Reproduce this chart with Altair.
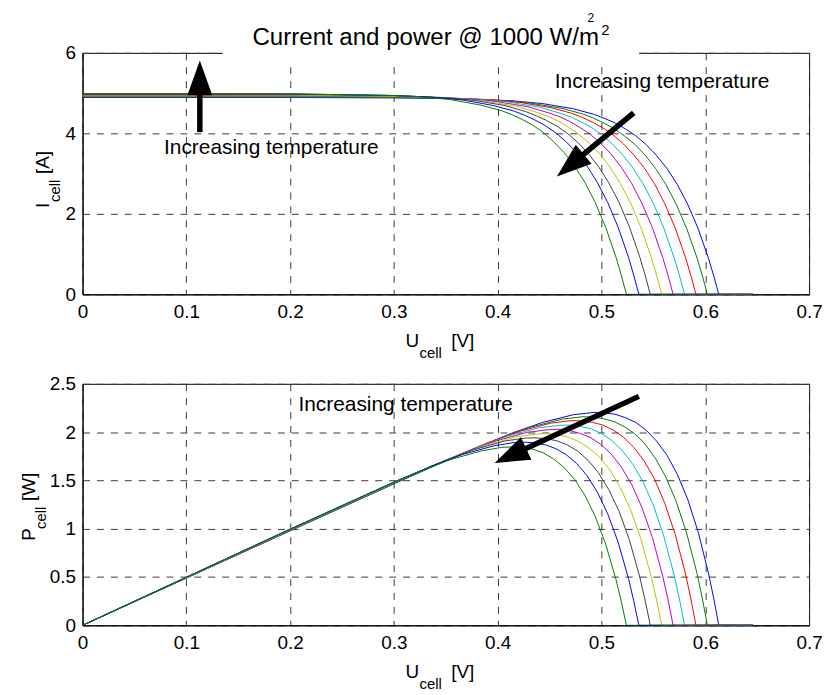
import math
import altair as alt
import pandas as pd

# ---------------- data ----------------
curve_ids = ["c1", "c2", "c3", "c4", "c5", "c6", "c7", "c8", "c9"]
curve_colors = ["#0000ff", "#008000", "#ff0000", "#00bfbf", "#bf00bf",
                "#bfbf00", "#404040", "#0000ff", "#008000"]

u_c1 = [0, 0.1, 0.2, 0.3, 0.363, 0.413, 0.443, 0.473, 0.493, 0.503, 0.513, 0.523, 0.533, 0.543, 0.553, 0.563, 0.573, 0.583, 0.593, 0.603, 0.608, 0.613, 0.646]
i_c1 = [4.89, 4.89, 4.89, 4.88, 4.86, 4.81, 4.74, 4.61, 4.47, 4.37, 4.26, 4.11, 3.94, 3.72, 3.45, 3.13, 2.73, 2.24, 1.64, 0.90, 0.47, 0, 0]
u_c2 = [0, 0.1, 0.2, 0.3, 0.352, 0.402, 0.432, 0.462, 0.482, 0.492, 0.502, 0.512, 0.522, 0.532, 0.542, 0.552, 0.562, 0.572, 0.582, 0.592, 0.597, 0.602, 0.646]
i_c2 = [4.90, 4.90, 4.90, 4.89, 4.87, 4.82, 4.75, 4.62, 4.48, 4.38, 4.26, 4.12, 3.94, 3.73, 3.46, 3.13, 2.73, 2.24, 1.64, 0.91, 0.48, 0, 0]
u_c3 = [0, 0.1, 0.2, 0.3, 0.341, 0.391, 0.421, 0.451, 0.471, 0.481, 0.491, 0.501, 0.511, 0.521, 0.531, 0.541, 0.551, 0.561, 0.571, 0.581, 0.586, 0.591, 0.646]
i_c3 = [4.92, 4.92, 4.92, 4.91, 4.89, 4.84, 4.77, 4.64, 4.50, 4.40, 4.28, 4.14, 3.96, 3.74, 3.47, 3.15, 2.75, 2.25, 1.65, 0.91, 0.48, 0, 0]
u_c4 = [0, 0.1, 0.2, 0.3, 0.330, 0.380, 0.410, 0.440, 0.460, 0.470, 0.480, 0.490, 0.500, 0.510, 0.520, 0.530, 0.540, 0.550, 0.560, 0.570, 0.575, 0.580, 0.646]
i_c4 = [4.93, 4.93, 4.93, 4.91, 4.90, 4.85, 4.78, 4.65, 4.50, 4.41, 4.29, 4.15, 3.97, 3.75, 3.48, 3.15, 2.75, 2.26, 1.65, 0.91, 0.48, 0, 0]
u_c5 = [0, 0.1, 0.2, 0.3, 0.319, 0.369, 0.399, 0.429, 0.449, 0.459, 0.469, 0.479, 0.489, 0.499, 0.509, 0.519, 0.529, 0.539, 0.549, 0.559, 0.564, 0.569, 0.646]
i_c5 = [4.94, 4.94, 4.94, 4.92, 4.91, 4.86, 4.79, 4.66, 4.51, 4.42, 4.30, 4.15, 3.98, 3.76, 3.49, 3.16, 2.76, 2.26, 1.66, 0.91, 0.48, 0, 0]
u_c6 = [0, 0.1, 0.2, 0.3, 0.308, 0.358, 0.388, 0.418, 0.438, 0.448, 0.458, 0.468, 0.478, 0.488, 0.498, 0.508, 0.518, 0.528, 0.538, 0.548, 0.553, 0.558, 0.646]
i_c6 = [4.95, 4.95, 4.95, 4.92, 4.92, 4.87, 4.80, 4.67, 4.52, 4.43, 4.31, 4.16, 3.98, 3.76, 3.50, 3.17, 2.76, 2.27, 1.66, 0.91, 0.48, 0, 0]
u_c7 = [0, 0.1, 0.2, 0.3, 0.347, 0.377, 0.407, 0.427, 0.437, 0.447, 0.457, 0.467, 0.477, 0.487, 0.497, 0.507, 0.517, 0.527, 0.537, 0.542, 0.547, 0.646]
i_c7 = [4.97, 4.97, 4.97, 4.94, 4.89, 4.82, 4.69, 4.54, 4.44, 4.32, 4.18, 4.00, 3.78, 3.51, 3.18, 2.77, 2.28, 1.67, 0.92, 0.48, 0, 0]
u_c8 = [0, 0.1, 0.2, 0.3, 0.336, 0.366, 0.396, 0.416, 0.426, 0.436, 0.446, 0.456, 0.466, 0.476, 0.486, 0.496, 0.506, 0.516, 0.526, 0.531, 0.536, 0.646]
i_c8 = [4.98, 4.98, 4.98, 4.94, 4.90, 4.83, 4.69, 4.55, 4.45, 4.33, 4.19, 4.01, 3.79, 3.52, 3.19, 2.78, 2.28, 1.67, 0.92, 0.48, 0, 0]
u_c9 = [0, 0.1, 0.2, 0.3, 0.324, 0.354, 0.384, 0.404, 0.414, 0.424, 0.434, 0.444, 0.454, 0.464, 0.474, 0.484, 0.494, 0.504, 0.514, 0.519, 0.524, 0.646]
i_c9 = [4.99, 4.99, 4.98, 4.94, 4.91, 4.84, 4.70, 4.56, 4.46, 4.34, 4.20, 4.02, 3.79, 3.52, 3.19, 2.78, 2.28, 1.67, 0.92, 0.48, 0, 0]

x_ticks = [0, 0.1, 0.2, 0.3, 0.4, 0.5, 0.6, 0.7]
i_ticks = [0, 2, 4, 6]
p_ticks = [0, 0.5, 1, 1.5, 2, 2.5]

title_text = ["Current and power @ 1000 W/m", "2"]
annot_text = "Increasing temperature"

# ---------------- layout constants ----------------
W, H = 731, 243
FONT = "Liberation Sans"
X_DOM, I_DOM, P_DOM = [0, 0.7], [0, 6], [0, 2.5]

rows = []
for cid, us, iss in zip(curve_ids,
                        [u_c1, u_c2, u_c3, u_c4, u_c5, u_c6, u_c7, u_c8, u_c9],
                        [i_c1, i_c2, i_c3, i_c4, i_c5, i_c6, i_c7, i_c8, i_c9]):
    for k, (u, i) in enumerate(zip(us, iss)):
        rows.append({"curve": cid, "U": u, "I": i, "k": k})
df = pd.DataFrame(rows)

xscale = alt.Scale(domain=X_DOM, nice=False, zero=False)


def axis(values, orient):
    return alt.Axis(values=values, format="~g", grid=True, gridDash=[7, 7], gridColor="#3a3a3a",
                    gridWidth=1, domainColor="black", domainWidth=1, ticks=False,
                    labelFont=FONT, labelFontSize=19, labelColor="black",
                    labelPadding=8 if orient == "x" else 7, labelFlush=False,
                    labelOverlap=False, title=None)


def curves(field, ticks, dom):
    return alt.Chart(df).mark_line(strokeWidth=1, clip=True).encode(
        x=alt.X("U:Q", scale=xscale, axis=axis(x_ticks, "x")),
        y=alt.Y(f"{field}:Q", scale=alt.Scale(domain=dom, nice=False), axis=axis(ticks, "y")),
        color=alt.Color("curve:N", scale=alt.Scale(domain=curve_ids, range=curve_colors), legend=None),
        order="k:Q",
    )


def to_px(x, y, ydom):
    return x / X_DOM[1] * W, H - y / ydom[1] * H


def arrow_layers(arrows, ydom, head_len=35, head_w=25):
    shafts, heads = [], []
    for (x0, y0, x1, y1) in arrows:
        px0, py0 = to_px(x0, y0, ydom)
        px1, py1 = to_px(x1, y1, ydom)
        dx, dy = px1 - px0, py1 - py0
        d = math.hypot(dx, dy)
        ux, uy = dx / d, dy / d
        ex, ey = px1 - ux * head_len * 0.7, py1 - uy * head_len * 0.7
        shafts.append({"x": x0, "y": y0, "x2": ex / W * X_DOM[1], "y2": (H - ey) / H * ydom[1]})
        ang = math.degrees(math.atan2(dx, -dy)) % 360
        heads.append({"x": x1, "y": y1, "ang": ang})
    sd, hd = pd.DataFrame(shafts), pd.DataFrame(heads)
    r = head_len / 2.0
    hw = head_w / 2.0 / r
    shape = f"M0,0L{-hw:.3f},2L{hw:.3f},2Z"
    shaft = alt.Chart(sd).mark_rule(color="black", strokeWidth=5.5, strokeCap="butt").encode(
        x=alt.X("x:Q", scale=xscale), y=alt.Y("y:Q"), x2="x2:Q", y2="y2:Q")
    head = alt.Chart(hd).mark_point(shape=shape, filled=True, color="black", opacity=1,
                                    size=(2 * r) ** 2, strokeWidth=0).encode(
        x=alt.X("x:Q", scale=xscale), y=alt.Y("y:Q"), angle=alt.Angle("ang:Q", scale=None))
    return [shaft, head]


def label(text, x, y, size, angle=0, align="left", baseline="alphabetic"):
    return alt.Chart(pd.DataFrame({"t": [text]})).mark_text(
        font=FONT, fontSize=size, color="black", align=align, baseline=baseline, angle=angle
    ).encode(x=alt.value(x), y=alt.value(y), text="t:N")


def annot(x, y):
    return alt.Chart(pd.DataFrame({"x": [x], "y": [y], "t": [annot_text]})).mark_text(
        font=FONT, fontSize=21, color="black", align="left", baseline="alphabetic"
    ).encode(x=alt.X("x:Q", scale=xscale), y=alt.Y("y:Q"), text="t:N")


def xtitle():
    return [label("U", 325, H + 53, 19), label("cell", 339, H + 64, 15), label("[V]", 371, H + 53, 19)]


# ---------------- top panel ----------------
anchor = alt.Chart(pd.DataFrame({"a": [0]})).mark_point(size=1, opacity=0, strokeWidth=0, filled=True).encode(
    x=alt.value(-74), y=alt.value(-42))
title_bg = alt.Chart(pd.DataFrame({"a": [0]})).mark_rect(color="white").encode(
    x=alt.value(141), x2=alt.value(560), y=alt.value(-30), y2=alt.value(12))

top_layers = [anchor, curves("I", i_ticks, I_DOM), title_bg,
              label(title_text[0], 171, -8, 24.2),
              label(title_text[1], 522, -18, 15),
              label(title_text[1], 508, -31.5, 12),
              annot(0.0785, 3.48), annot(0.455, 5.12)]
top_layers += arrow_layers([(0.113, 4.03, 0.113, 5.81), (0.531, 4.51, 0.457, 2.93)], I_DOM)
top_layers += xtitle()
top_layers += [label("I", -34, 156, 19, angle=270), label("cell", -23, 150, 15, angle=270),
               label("[A]", -34, 122, 19, angle=270)]
top = alt.layer(*top_layers).properties(width=W, height=H)

# ---------------- bottom panel ----------------
bot_layers = [curves("P", p_ticks, P_DOM).transform_calculate(P="datum.U * datum.I"),
              annot(0.208, 2.218)]
bot_layers += arrow_layers([(0.536, 2.37, 0.397, 1.68)], P_DOM)
bot_layers += xtitle()
bot_layers += [label("P", -48, 158, 19, angle=270), label("cell", -37, 146, 15, angle=270),
               label("[W]", -48, 118, 19, angle=270)]
bottom = alt.layer(*bot_layers).properties(width=W, height=H)

chart = alt.vconcat(top, bottom, spacing=90, bounds="flush").properties(
    padding=0, background="white"
).configure_view(stroke="black", strokeWidth=1).resolve_scale(y="independent")

chart.save("out.html", embed_options={"renderer": "svg", "actions": False})
